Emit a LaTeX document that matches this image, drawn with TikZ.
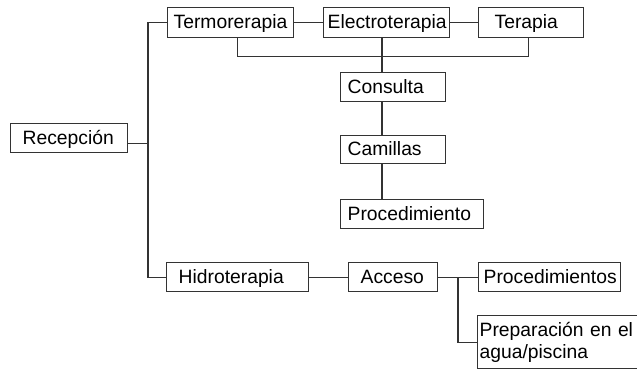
\documentclass[tikz,border=0pt]{standalone}
\usepackage{fontspec}
\setmainfont{Liberation Sans}
\usepackage{tikz}
\usetikzlibrary{positioning,calc}
\definecolor{ink}{HTML}{333333}

\begin{document}
\begin{tikzpicture}[x=1pt,y=-1pt,
  box/.style={draw=ink,line width=1.3pt,anchor=north west,inner ysep=0pt,
              minimum height=29pt,text height=15pt,text depth=3pt,align=left,
              font=\fontsize{19.3}{21.5}\selectfont},
  lnk/.style={draw=ink,line width=1.3pt}
]
\useasboundingbox (0,0) rectangle (637,369);
% boxes
\node[box,text width=93pt,inner xsep=12pt] (recep) at (10,123) {Recepción};
\node[box,text width=114pt,inner xsep=6pt,minimum height=30pt] (termo) at (167,7) {Termorerapia};
\node[box,text width=118pt,inner xsep=4pt,minimum height=30pt] (electro) at (323,7) {Electroterapia};
\node[box,text width=73pt,inner xsep=16pt,minimum height=30pt] (terapia) at (478,7) {Terapia};
\node[box,text width=91pt,inner xsep=7pt] (consulta) at (340,72) {Consulta};
\node[box,text width=91pt,inner xsep=7pt,minimum height=28pt] (camillas) at (340,135) {Camillas};
\node[box,text width=129pt,inner xsep=7pt] (proc) at (340,199) {Procedimiento};
\node[box,text width=118pt,inner xsep=12pt] (hidro) at (166,262) {Hidroterapia};
\node[box,text width=65pt,inner xsep=12pt] (acceso) at (348,262) {Acceso};
\node[box,text width=132pt,inner xsep=5pt] (procs) at (478,262) {Procedimientos};
\node[box,text width=159pt,inner xsep=2pt,minimum height=53pt,
      text height=,text depth=] (prep) at (477,315) {Preparación en el\\agua/piscina};
% junctions
\coordinate (trunk) at (148,0);
\coordinate (spine) at (382,0);
\coordinate (fork) at (458,0);
\coordinate (rx) at ($(recep.east)+(0,5.5)$);
% connectors
\draw[lnk] (rx) -- (trunk |- rx);
\draw[lnk] (termo.west) -- (trunk |- termo.west) |- (hidro.west);
\draw[lnk] (termo) -- (electro);
\draw[lnk] (electro) -- (terapia);
\draw[lnk] ([xshift=7pt]termo.south) -- ++(0,18) -| ([xshift=-2.5pt]terapia.south);
\draw[lnk] (spine |- electro.south) -- (spine |- consulta.north);
\draw[lnk] (spine |- consulta.south) -- (spine |- camillas.north);
\draw[lnk] (spine |- camillas.south) -- (spine |- proc.north);
\draw[lnk] (hidro) -- (acceso);
\draw[lnk] (acceso) -- (procs);
\draw[lnk] (fork |- acceso.east) |- (prep.west);
\end{tikzpicture}
\end{document}
